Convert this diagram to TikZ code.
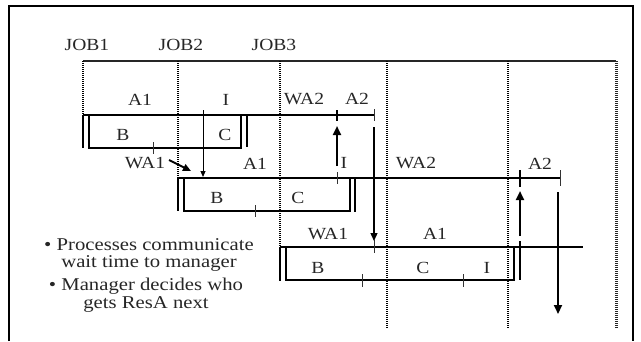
\documentclass[tikz,border=0pt]{standalone}
\usepackage{fontspec}
\setmainfont{Liberation Serif}[FakeStretch=1.15]
\usetikzlibrary{arrows.meta}
\begin{document}
\begin{tikzpicture}[x=1pt,y=-1pt,
  lbl/.style={font=\fontsize{17}{19}\selectfont, text=black!85, inner sep=0pt},
  bul/.style={font=\fontsize{18}{17.5}\selectfont, text=black!85, inner sep=0pt, align=center},
  frameline/.style={line width=1.2pt, black},
  mainline/.style={line width=2.2pt, black!85},
  rowline/.style={line width=1.4pt, black},
  tickline/.style={line width=1pt, black!80},
  dotv/.style={line width=1.6pt, black, dash pattern=on 1.1pt off 0.9pt},
  dotthick/.style={line width=3pt, black!85, dash pattern=on 1.1pt off 0.9pt},
  thinarrow/.style={line width=1pt, -{Triangle[length=6pt,width=5pt]}},
  medarrow/.style={line width=1.3pt, -{Triangle[length=8pt,width=7pt]}},
  bigarrow/.style={line width=2.2pt, -{Triangle[length=9pt,width=8pt]}}
]
\useasboundingbox (0,0) rectangle (641,341);
% frame
\draw[frameline] (9,341) -- (9,6) -- (633,6) -- (633,341);
% job labels
\node[lbl] (job1) at (87,45) {JOB1};
\node[lbl] (job2) at (181,45) {JOB2};
\node[lbl] (job3) at (274,45) {JOB3};
% main time line
\draw[mainline] (83,61) -- (616,61);
% dotted verticals
\draw[dotv] (83,61) -- (83,115);
\draw[dotv] (178,61) -- (178,178);
\draw[dotv] (280,61) -- (280,247);
\draw[dotv] (387,61) -- (387,328);
\draw[dotv] (508,61) -- (508,328);
\draw[dotthick] (616,61) -- (616,328);

% ---------- row 1 ----------
\coordinate (r1s) at (83,115);
\coordinate (r1e) at (374,115);
\draw[rowline] (r1s) -- (r1e);
\draw[rowline] (83,115) -- (83,148);
\draw[rowline] (89,115) -- (89,148) -- (241,148) -- (241,115);
\draw[rowline] (247,115) -- (247,147);
\draw[tickline] (153,142) -- (153,154);
\draw[line width=1.5pt] (337,110) -- (337,121);
\draw[tickline] (374,109) -- (374,121);
\node[lbl] (r1a1) at (140,100) {A1};
\node[lbl] (r1i) at (226,100) {I};
\node[lbl] (r1wa2) at (304,99) {WA2};
\node[lbl] (r1a2) at (357,99) {A2};
\node[lbl] (r1b) at (123,135) {B};
\node[lbl] (r1c) at (225,135) {C};

% ---------- row 2 ----------
\draw[rowline] (178,178) -- (560,178);
\draw[rowline] (178,178) -- (178,211);
\draw[rowline] (184,178) -- (184,211) -- (350,211) -- (350,178);
\draw[rowline] (355,178) -- (355,212);
\draw[tickline] (255,205) -- (255,217);
\draw[tickline] (337,172) -- (337,184);
\draw[line width=1.5pt] (520,170) -- (520,187);
\draw[tickline] (560,170) -- (560,186);
\node[lbl] (r2wa1) at (145,163) {WA1};
\node[lbl] (r2a1) at (255,164) {A1};
\node[lbl] (r2i) at (344,163) {I};
\node[lbl] (r2wa2) at (416,163) {WA2};
\node[lbl] (r2a2) at (540,164) {A2};
\node[lbl] (r2b) at (217,198) {B};
\node[lbl] (r2c) at (298,198) {C};

% ---------- row 3 ----------
\draw[rowline] (280,247) -- (583,247);
\draw[rowline] (280,247) -- (280,281);
\draw[rowline] (286,247) -- (286,280) -- (514,280) -- (514,247);
\draw[rowline] (520,241) -- (520,280);
\draw[tickline] (362,274) -- (362,287);
\draw[tickline] (463,274) -- (463,287);
\draw[tickline] (374,240) -- (374,253);
\node[lbl] (r3wa1) at (328,234) {WA1};
\node[lbl] (r3a1) at (435,234) {A1};
\node[lbl] (r3b) at (318,268) {B};
\node[lbl] (r3c) at (423,268) {C};
\node[lbl] (r3i) at (487,268) {I};

% ---------- arrows ----------
\coordinate (a1s) at (203,110);
\coordinate (a1e) at (203,177);
\draw[thinarrow] (a1s) -- (a1e);
\coordinate (wa1s) at (169,160);
\coordinate (wa1e) at (191,171);
\draw[line width=1.8pt, -{Triangle[length=8pt,width=7pt]}] (wa1s) -- (wa1e);
\coordinate (u1s) at (337,166);
\coordinate (u1e) at (337,126);
\draw[bigarrow] (u1s) -- (u1e);
\coordinate (d1s) at (374,127);
\coordinate (d1e) at (374,241);
\draw[medarrow] (d1s) -- (d1e);
\coordinate (u2s) at (520,236);
\coordinate (u2e) at (520,191);
\draw[bigarrow] (u2s) -- (u2e);
\coordinate (d2s) at (558,192);
\coordinate (d2e) at (558,314);
\draw[bigarrow] (d2s) -- (d2e);

% ---------- bullets ----------
\node[bul] (b1) at (149,255) {\textbullet\ Processes communicate\\wait time to manager};
\node[bul] (b2) at (146,295) {\textbullet\ Manager decides who\\gets ResA next};
\end{tikzpicture}
\end{document}
